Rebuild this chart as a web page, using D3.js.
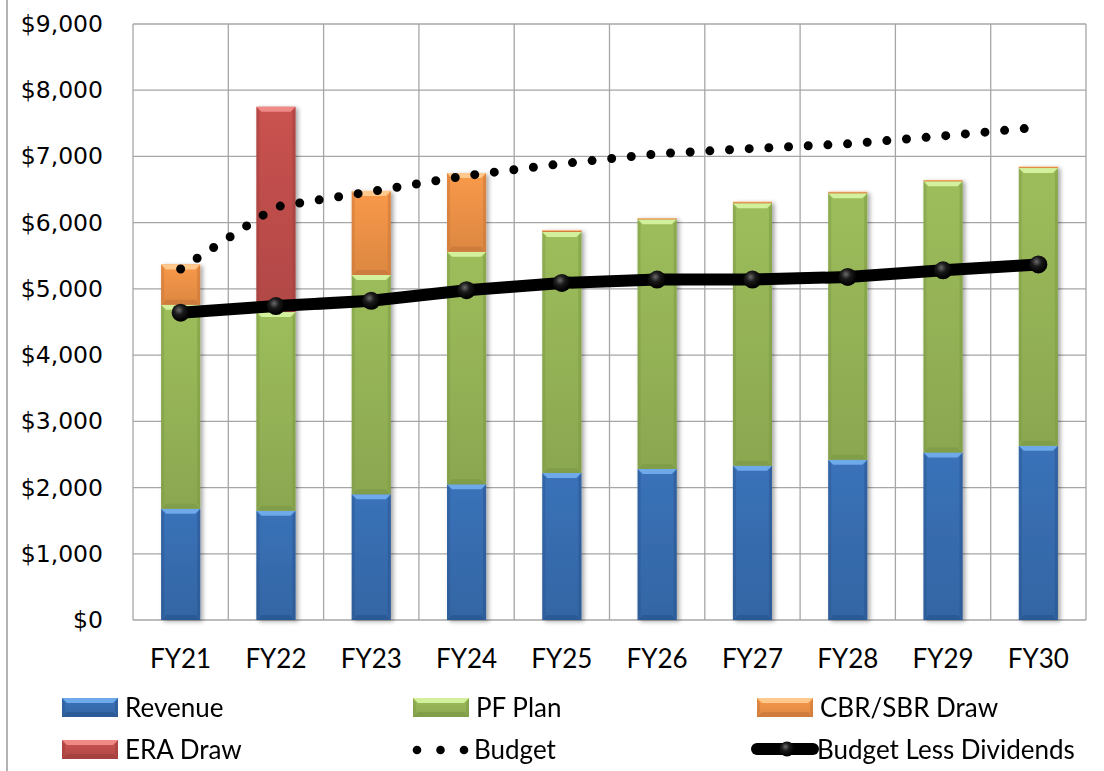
<!DOCTYPE html>
<html>
<head>
<meta charset="utf-8">
<script src="https://cdn.jsdelivr.net/npm/d3@7"></script>
<style>
  body { margin: 0; background: #fff; }
  svg { display: block; }
</style>
</head>
<body>
<svg id="chart" width="1104" height="771"></svg>
<script>
const categories = ["FY21", "FY22", "FY23", "FY24", "FY25", "FY26", "FY27", "FY28", "FY29", "FY30"];
const revenue = [1680, 1650, 1900, 2050, 2220, 2280, 2330, 2420, 2530, 2630];
const pfPlan = [3080, 3000, 3310, 3510, 3640, 3770, 3965, 4025, 4095, 4195];
const cbrSbrDraw = [610, 0, 1270, 1190, 30, 20, 20, 20, 20, 20];
const eraDraw = [0, 3100, 0, 0, 0, 0, 0, 0, 0, 0];
const budget = [5300, 6240, 6470, 6710, 6890, 7040, 7120, 7190, 7310, 7440];
const budgetLessDividends = [4640, 4740, 4820, 4980, 5090, 5140, 5140, 5180, 5280, 5370];
const yTicks = [0, 1000, 2000, 3000, 4000, 5000, 6000, 7000, 8000, 9000];

const barSeries = [
    {name: "Revenue", values: revenue, base: "#3a72b9", light: "#6ea9ea", dark: "#2a5690"},
    {name: "PF Plan", values: pfPlan, base: "#9dbd5b", light: "#d3f09c", dark: "#7c9a44"},
    {name: "CBR/SBR Draw", values: cbrSbrDraw, base: "#f9994a", light: "#ffc88c", dark: "#c8763a"},
    {name: "ERA Draw", values: eraDraw, base: "#c9524f", light: "#f08a86", dark: "#a03f3c"}
];

const svg = d3.select("#chart");
const plotLeft = 133, plotRight = 1086, plotTop = 24, plotBottom = 620;

const x = d3.scaleBand()
    .domain(categories)
    .range([plotLeft, plotRight])
    .paddingInner(0.59)
    .paddingOuter(0.295);

const y = d3.scaleLinear()
    .domain([0, 9000])
    .range([plotBottom, plotTop]);

const defs = svg.append("defs");
defs.append("filter")
    .attr("id", "shadow")
    .attr("x", "-20%").attr("y", "-5%").attr("width", "150%").attr("height", "115%")
    .append("feDropShadow")
    .attr("dx", 2.5).attr("dy", 1.5).attr("stdDeviation", 2)
    .attr("flood-color", "#000").attr("flood-opacity", 0.35);

barSeries.forEach((s, i) => {
    const g = defs.append("linearGradient")
        .attr("id", "grad" + i)
        .attr("x1", 0).attr("y1", 0).attr("x2", 0).attr("y2", 1);
    g.append("stop").attr("offset", "0%").attr("stop-color", s.base);
    g.append("stop").attr("offset", "100%").attr("stop-color", d3.color(s.base).darker(0.35));
});

const ball = defs.append("radialGradient")
    .attr("id", "ball")
    .attr("cx", "40%").attr("cy", "35%").attr("r", "60%");
ball.append("stop").attr("offset", "0%").attr("stop-color", "#6a6a6a");
ball.append("stop").attr("offset", "45%").attr("stop-color", "#1a1a1a");
ball.append("stop").attr("offset", "100%").attr("stop-color", "#000");

// left border of the chart area
svg.append("line")
    .attr("x1", 7).attr("x2", 7).attr("y1", 0).attr("y2", 771)
    .attr("stroke", "#9a9a9a").attr("stroke-width", 1.5);

// gridlines
const grid = svg.append("g").attr("stroke", "#a6a6a6").attr("stroke-width", 1.3);
grid.selectAll("line.h")
    .data(yTicks)
    .join("line")
    .attr("class", "h")
    .attr("x1", plotLeft).attr("x2", plotRight)
    .attr("y1", d => y(d)).attr("y2", d => y(d));

const step = x.step();
const bounds = categories.map(c => x(c) + x.bandwidth() / 2 - step / 2).concat([plotRight]);
grid.selectAll("line.v")
    .data(bounds)
    .join("line")
    .attr("class", "v")
    .attr("x1", d => d).attr("x2", d => d)
    .attr("y1", plotTop).attr("y2", plotBottom);

// y axis labels
svg.append("g")
    .attr("transform", `translate(${plotLeft},0)`)
    .call(d3.axisLeft(y).tickValues(yTicks).tickSize(0).tickPadding(30).tickFormat(d3.format("$,")))
    .call(g => g.select(".domain").remove())
    .selectAll("text")
    .attr("font-family", "DejaVu Sans")
    .attr("font-size", 23.5)
    .attr("fill", "#000");

// x axis labels
svg.append("g")
    .selectAll("text")
    .data(categories)
    .join("text")
    .attr("x", d => x(d) + x.bandwidth() / 2)
    .attr("y", 668)
    .attr("text-anchor", "middle")
    .attr("font-family", "Lato")
    .attr("font-size", 26)
    .text(d => d);

// stacked bars
const stackData = categories.map((c, i) => {
    const row = {cat: c};
    barSeries.forEach(s => row[s.name] = s.values[i]);
    return row;
});
const stacked = d3.stack().keys(barSeries.map(s => s.name))(stackData);

function bevelBox(sel, x0, x1, y0, y1, s, gi) {
    const h = y1 - y0;
    if (h <= 0) return;
    const b = Math.min(5, h / 2.2);
    sel.append("rect")
        .attr("x", x0).attr("y", y0).attr("width", x1 - x0).attr("height", h)
        .attr("fill", `url(#grad${gi})`);
    sel.append("polygon")
        .attr("points", [[x0, y0], [x1, y0], [x1 - b, y0 + b], [x0 + b, y0 + b]].join(" "))
        .attr("fill", s.light);
    sel.append("polygon")
        .attr("points", [[x0, y0], [x0 + b * 0.6, y0 + b], [x0 + b * 0.6, y1 - b], [x0, y1]].join(" "))
        .attr("fill", s.dark).attr("opacity", 0.45);
    sel.append("polygon")
        .attr("points", [[x1, y0], [x1 - b * 0.6, y0 + b], [x1 - b * 0.6, y1 - b], [x1, y1]].join(" "))
        .attr("fill", s.dark).attr("opacity", 0.55);
    sel.append("polygon")
        .attr("points", [[x0, y1], [x1, y1], [x1 - b, y1 - b], [x0 + b, y1 - b]].join(" "))
        .attr("fill", s.dark).attr("opacity", 0.7);
}

const barsG = svg.append("g").attr("filter", "url(#shadow)");
stacked.forEach((layer, gi) => {
    layer.forEach((d, i) => {
        const c = categories[i];
        const g = barsG.append("g");
        bevelBox(g, x(c), x(c) + x.bandwidth(), y(d[1]), y(d[0]), barSeries[gi], gi);
    });
});

// Budget dotted line
const cx = (d, i) => x(categories[i]) + x.bandwidth() / 2;
const line = d3.line().x((d, i) => cx(d, i)).y(d => y(d));

svg.append("path")
    .datum(budget)
    .attr("d", line)
    .attr("fill", "none")
    .attr("stroke", "#000")
    .attr("stroke-width", 9)
    .attr("stroke-linecap", "round")
    .attr("stroke-dasharray", "0 19.7");

// Budget Less Dividends line with markers
svg.append("path")
    .datum(budgetLessDividends)
    .attr("d", line)
    .attr("fill", "none")
    .attr("stroke", "#000")
    .attr("stroke-width", 12)
    .attr("stroke-linejoin", "round");

svg.append("g")
    .selectAll("circle")
    .data(budgetLessDividends)
    .join("circle")
    .attr("cx", cx)
    .attr("cy", d => y(d))
    .attr("r", 9)
    .attr("fill", "url(#ball)");

// legend
const legendItems = [
    {name: "Revenue", type: "bar", s: 0, lx: 62, ly: 698},
    {name: "PF Plan", type: "bar", s: 1, lx: 413, ly: 698},
    {name: "CBR/SBR Draw", type: "bar", s: 2, lx: 757, ly: 698},
    {name: "ERA Draw", type: "bar", s: 3, lx: 62, ly: 740},
    {name: "Budget", type: "dots", lx: 413, ly: 740},
    {name: "Budget Less Dividends", type: "thick", lx: 751, ly: 740}
];

const legend = svg.append("g");
legendItems.forEach(it => {
    const g = legend.append("g");
    if (it.type === "bar") {
        bevelBox(g, it.lx, it.lx + 56, it.ly, it.ly + 19, barSeries[it.s], it.s);
        g.append("text")
            .attr("x", it.lx + 63).attr("y", it.ly + 19)
            .attr("font-family", "Lato").attr("font-size", 26)
            .text(it.name);
    } else if (it.type === "dots") {
        g.selectAll("circle")
            .data([0, 1, 2])
            .join("circle")
            .attr("cx", k => it.lx + 4 + k * 23.5)
            .attr("cy", it.ly + 10)
            .attr("r", 4.3)
            .attr("fill", "#000");
        g.append("text")
            .attr("x", it.lx + 61).attr("y", it.ly + 19)
            .attr("font-family", "Lato").attr("font-size", 26)
            .text(it.name);
    } else {
        g.append("line")
            .attr("x1", it.lx + 6).attr("x2", it.lx + 62)
            .attr("y1", it.ly + 9).attr("y2", it.ly + 9)
            .attr("stroke", "#000").attr("stroke-width", 12).attr("stroke-linecap", "round");
        g.append("circle")
            .attr("cx", it.lx + 36).attr("cy", it.ly + 9).attr("r", 7.5)
            .attr("fill", "url(#ball)");
        g.append("text")
            .attr("x", it.lx + 66).attr("y", it.ly + 19)
            .attr("font-family", "Lato").attr("font-size", 26)
            .text(it.name);
    }
});
</script>
</body>
</html>
